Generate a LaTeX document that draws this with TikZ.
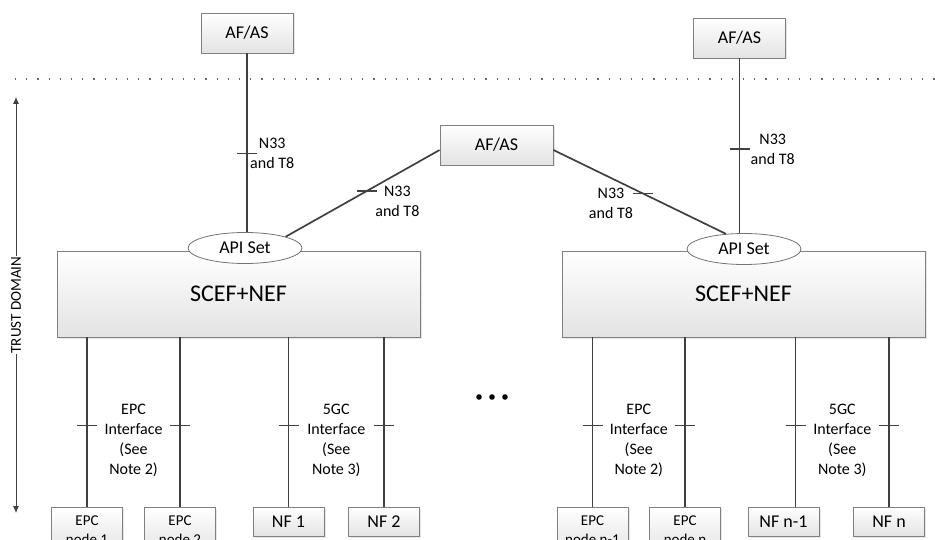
\documentclass[tikz,border=0pt]{standalone}
\usepackage{fontspec}
\setmainfont{Carlito}
\usetikzlibrary{arrows.meta,positioning,calc,shapes.geometric,shadows}
\tikzset{
  afbox/.style={draw=black!50, line width=0.8pt, top color=white, bottom color=black!11,
    drop shadow={opacity=0.2, shadow xshift=1.5pt, shadow yshift=-1.5pt},
    minimum width=92pt, minimum height=40pt, inner sep=2pt, font=\fontsize{18}{21}\selectfont},
  scefbox/.style={afbox, minimum width=363pt, minimum height=86pt, font=\fontsize{24}{28}\selectfont},
  apiset/.style={ellipse, draw=black!55, line width=0.8pt, fill=white, minimum width=114pt,
    minimum height=31pt, inner sep=0pt, font=\fontsize{18}{21}\selectfont},
  nfbox/.style={afbox, minimum width=71pt, minimum height=29pt},
  epcbox/.style={afbox, minimum width=71pt, minimum height=46pt, align=center,
    anchor=north, inner sep=1pt, font=\fontsize{15}{19}\selectfont},
  iface/.style={draw=black!75, line width=1.7pt},
  ifmark/.style={draw=black!75, line width=1.7pt},
  iflabel/.style={align=center, inner sep=0pt, font=\fontsize{16}{20}\selectfont},
  domline/.style={draw=black!60, line width=1.2pt, dash pattern=on 1.2pt off 10pt},
  domarrow/.style={{Latex[length=7pt,width=6pt]}-{Latex[length=7pt,width=6pt]}, draw=black!75, line width=0.8pt},
}

\begin{document}
\begin{tikzpicture}[x=1pt, y=-1pt]
  \useasboundingbox (0,0) rectangle (935,540);

  % trust domain border and extent
  \coordinate (dl) at (15,79);
  \coordinate (dr) at (935,79);
  \draw[domline] (dl) -- (dr);
  \coordinate (tdtop) at (16,97);
  \coordinate (tdbot) at (16,513);
  \draw[domarrow] (tdtop) -- (tdbot)
    node[midway, fill=white, rotate=90, inner sep=1pt, font=\fontsize{15}{18}\selectfont] (tdlabel) {TRUST DOMAIN};

  % application functions
  \node[afbox] (afl) at (247,33) {AF/AS};
  \node[afbox] (afr) at (739.5,38) {AF/AS};
  \node[afbox, minimum width=113pt] (afm) at (496.5,145) {AF/AS};

  % exposure functions
  \node[scefbox] (scefl) at (238.5,294) {SCEF+NEF};
  \node[scefbox] (scefr) at (743.5,294) {SCEF+NEF};
  \node[apiset] (apil) at (245,248) {API Set};
  \node[apiset] (apir) at (744,249) {API Set};

  % core network nodes
  \node[epcbox] (epc1) at (87,507) {EPC\\node 1};
  \node[epcbox] (epc2) at (180,507) {EPC\\node 2};
  \node[nfbox] (nf1) at (288.5,521.5) {NF 1};
  \node[nfbox] (nf2) at (384,521.5) {NF 2};
  \node[epcbox] (epcn1) at (592.5,507) {EPC\\node n-1};
  \node[epcbox] (epcn) at (685,507) {EPC\\node n};
  \node[nfbox] (nfn1) at (783.5,521.5) {NF n-1};
  \node[nfbox] (nfn) at (889,521.5) {NF n};
  \coordinate (nfn1top) at ([xshift=12pt]nfn1.north);

  % northbound reference points
  \draw[iface] (afl.south) -- coordinate[pos=0.56] (tafl) (apil.north -| afl.south);
  \draw[iface] (afr.south) -- coordinate[pos=0.52] (tafr) (apir.north -| afr.south);
  \draw[iface] ([yshift=-5pt]afm.west) -- coordinate[pos=0.47] (tml) (apil.north east);
  \draw[iface] ([yshift=-5pt]afm.east) -- coordinate[pos=0.52] (tmr) (apir.140);

  % southbound interfaces
  \draw[iface] (scefl.south -| epc1.north) -- coordinate[pos=0.52] (te1) (epc1.north);
  \draw[iface] (scefl.south -| epc2.north) -- coordinate[pos=0.52] (te2) (epc2.north);
  \draw[iface] (scefl.south -| nf1.north) -- coordinate[pos=0.52] (tn1) (nf1.north);
  \draw[iface] (scefl.south -| nf2.north) -- coordinate[pos=0.52] (tn2) (nf2.north);
  \draw[iface] (scefr.south -| epcn1.north) -- coordinate[pos=0.52] (ten1) (epcn1.north);
  \draw[iface] (scefr.south -| epcn.north) -- coordinate[pos=0.52] (ten) (epcn.north);
  \draw[iface] (scefr.south -| nfn1top) -- coordinate[pos=0.52] (tnn1) (nfn1top);
  \draw[iface] (scefr.south -| nfn.north) -- coordinate[pos=0.52] (tnn) (nfn.north);

  \foreach \t in {tafl,tafr,tml,tmr,te1,te2,tn1,tn2,ten1,ten,tnn1,tnn}
    \draw[ifmark] (\t) ++(-10,0) -- ++(20,0);

  % labels
  \node[iflabel, right=3pt of tafl] (lafl) {N33\\and T8};
  \node[iflabel, right=11pt of tafr] (lafr) {N33\\and T8};
  \node[iflabel, anchor=west] (lml) at ($(tml)+(8,11)$) {N33\\and T8};
  \node[iflabel, anchor=east] (lmr) at ($(tmr)+(-10,10)$) {N33\\and T8};
  \node[iflabel] (lepcl) at ($(te1)!0.5!(te2)+(0,15)$) {EPC\\Interface\\(See\\Note 2)};
  \node[iflabel] (l5gcl) at ($(tn1)!0.5!(tn2)+(0,15)$) {5GC\\Interface\\(See\\Note 3)};
  \node[iflabel] (lepcr) at ($(ten1)!0.5!(ten)+(0,15)$) {EPC\\Interface\\(See\\Note 2)};
  \node[iflabel] (l5gcr) at ($(tnn1)!0.5!(tnn)+(0,15)$) {5GC\\Interface\\(See\\Note 3)};

  % more deployments
  \foreach \dx in {-13,0,13}
    \fill (492+\dx,397) circle (2.8);
\end{tikzpicture}
\end{document}
